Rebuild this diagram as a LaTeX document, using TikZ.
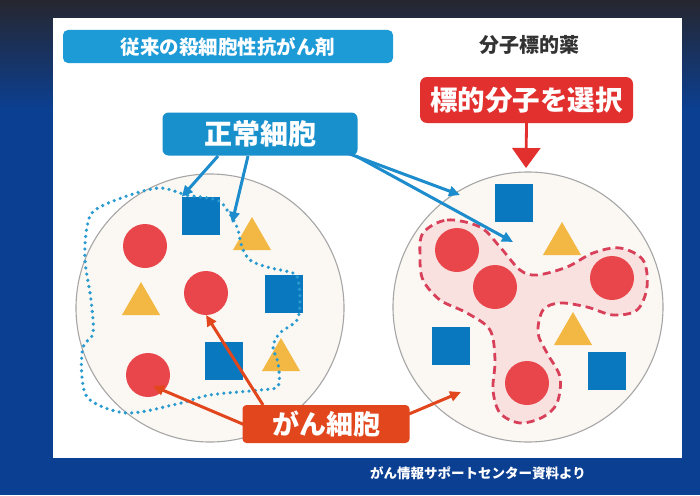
\documentclass[tikz,border=0pt]{standalone}
\usepackage{fontspec}
\newfontfamily\jp{Noto Sans CJK JP}
\usetikzlibrary{arrows.meta,shapes.geometric}
\definecolor{bgdark}{HTML}{26262F}
\definecolor{bgblue}{HTML}{0B3F92}
\definecolor{hdrblue}{HTML}{1D9BD7}
\definecolor{boxblue}{HTML}{1890CC}
\definecolor{arrblue}{HTML}{1C8CCC}
\definecolor{dotblue}{HTML}{2A9BD0}
\definecolor{boxred}{HTML}{E2302F}
\definecolor{boxorange}{HTML}{E2461C}
\definecolor{cellred}{HTML}{E8464B}
\definecolor{cellblue}{HTML}{0A78BF}
\definecolor{cellyel}{HTML}{F2B843}
\definecolor{circfill}{HTML}{FBF8F3}
\definecolor{dashred}{HTML}{D8405A}
\definecolor{pinkfill}{HTML}{F9E1DF}
\tikzset{
  bsq/.style={rectangle,fill=cellblue,minimum size=38pt,inner sep=0pt},
  ytri/.style={regular polygon,regular polygon sides=3,fill=cellyel,minimum size=44pt,inner sep=0pt},
  rcell/.style={circle,fill=cellred,minimum size=44pt,inner sep=0pt},
  bigcirc/.style={draw=black!35,line width=1.1pt,fill=circfill},
  lbl/.style={text=white,font=\jp\bfseries,inner sep=0pt},
  barrow/.style={draw=arrblue,line width=3pt,-{Triangle[length=11pt,width=10pt]}},
  rarrow/.style={draw=boxorange,line width=3pt,-{Triangle[length=11pt,width=10pt]}},
}
\begin{document}
\begin{tikzpicture}[x=1pt,y=-1pt]
\useasboundingbox (0,0) rectangle (700,495);
% background
\fill[bgblue] (0,0) rectangle (700,495);
\shade[top color=bgdark,bottom color=bgblue] (0,0) rectangle (700,110);
\fill[white] (53,18) rectangle (682,458);
% big circles
\path[bigcirc] (210,308) circle[radius=134pt];
\path[bigcirc] (528,307) circle[radius=135pt];
% pink region
\path[fill=pinkfill] plot[smooth cycle,tension=0.55] coordinates {
 (423,233) (447,220) (480,227) (500,247) (520,270) (537,275) (567,267) (593,253)
 (620,248) (643,260) (647,287) (637,310) (613,315) (587,307) (560,303) (543,310)
 (538,333) (547,353) (560,377) (557,403) (543,417) (520,423) (500,413) (493,390)
 (495,360) (490,330) (467,313) (440,300) (423,280) (420,257)};
\draw[dashred,line width=2.8pt,dash pattern=on 8pt off 5pt] plot[smooth cycle,tension=0.55] coordinates {
 (423,233) (447,220) (480,227) (500,247) (520,270) (537,275) (567,267) (593,253)
 (620,248) (643,260) (647,287) (637,310) (613,315) (587,307) (560,303) (543,310)
 (538,333) (547,353) (560,377) (557,403) (543,417) (520,423) (500,413) (493,390)
 (495,360) (490,330) (467,313) (440,300) (423,280) (420,257)};
% left cells
\node[bsq] (sqL1) at (201,216) {};
\node[ytri] (triL1) at (252,239) {};
\node[rcell] (rcL1) at (145,246) {};
\node[rcell] (rcL2) at (206,293) {};
\node[ytri] (triL2) at (141,304) {};
\node[bsq] (sqL2) at (284,294) {};
\node[bsq] (sqL3) at (224,361) {};
\node[ytri] (triL3) at (281,360) {};
\node[rcell] (rcL3) at (148,375) {};
% right cells
\node[bsq] (sqR1) at (514,203) {};
\node[ytri] (triR1) at (562,244) {};
\node[rcell] (rcR1) at (457,250) {};
\node[rcell] (rcR2) at (495,287) {};
\node[rcell] (rcR3) at (612,278) {};
\node[rcell] (rcR4) at (527,383) {};
\node[ytri] (triR2) at (573,334) {};
\node[bsq] (sqR2) at (451,346) {};
\node[bsq] (sqR3) at (607,371) {};
% dotted outline
\draw[dotblue,line width=3.6pt,line cap=round,dash pattern=on 0pt off 6.3pt] plot[smooth cycle,tension=0.55] coordinates {
 (217,200) (187,195) (160,188) (127,196) (95,210) (87,227) (85,260) (91,300)
 (93,333) (83,347) (82,377) (90,400) (127,413) (177,404) (210,395) (260,390)
 (278,386) (278,363) (273,347) (280,333) (297,320) (300,300) (298,280) (293,273)
 (267,267) (250,260) (242,247) (237,227) (227,210)};
% header labels
\node[fill=hdrblue,rounded corners=5pt,minimum width=330pt,minimum height=33pt,lbl,font=\jp\bfseries\fontsize{19.5}{20}\selectfont] (hdr) at (228,46.5) {従来の殺細胞性抗がん剤};
\node[font=\jp\bfseries\fontsize{20}{20}\selectfont,text=black!80,inner sep=0pt] (mol) at (529,45) {分子標的薬};
\node[fill=boxred,rounded corners=7pt,minimum width=213pt,minimum height=46pt,lbl,font=\jp\bfseries\fontsize{27.5}{28}\selectfont] (sel) at (526.5,100) {標的分子を選択};
\node[fill=boxblue,rounded corners=6pt,minimum width=195pt,minimum height=43pt,lbl,font=\jp\bfseries\fontsize{28}{28}\selectfont] (norm) at (260,134) {正常細胞};
\node[fill=boxorange,rounded corners=4pt,minimum width=167pt,minimum height=38pt,lbl,font=\jp\bfseries\fontsize{27}{27}\selectfont] (canc) at (326,424) {がん細胞};
\node[lbl,font=\jp\bfseries\fontsize{13.5}{14}\selectfont] (src) at (478,473) {がん情報サポートセンター資料より};
% arrow coordinates
\coordinate (tgtR) at (526,168);
\coordinate (a1s) at (218,156);
\coordinate (a2s) at (248,156);
\coordinate (a3s) at (347,153);
\coordinate (a4s) at (356,156);
\coordinate (a2e) at (232,223);
\coordinate (a3e) at (460,195);
\coordinate (a4e) at (513,242);
\coordinate (c1s) at (263,405);
\coordinate (c2s) at (245,425);
\coordinate (c3s) at (409,414);
\coordinate (c1e) at (206,315);
\coordinate (c2e) at (153,386);
\coordinate (c3e) at (461,392);
% arrows
\draw[draw=boxred,line width=2.8pt,-{Triangle[length=20pt,width=28pt]}] (sel.south) -- (tgtR);
\draw[barrow] (a1s) -- (sqL1.north west);
\draw[barrow] (a2s) -- (a2e);
\draw[barrow] (a3s) -- (a3e);
\draw[barrow] (a4s) -- (a4e);
\draw[rarrow] (c1s) -- (c1e);
\draw[rarrow] (c2s) -- (c2e);
\draw[rarrow] (c3s) -- (c3e);
\end{tikzpicture}
\end{document}
